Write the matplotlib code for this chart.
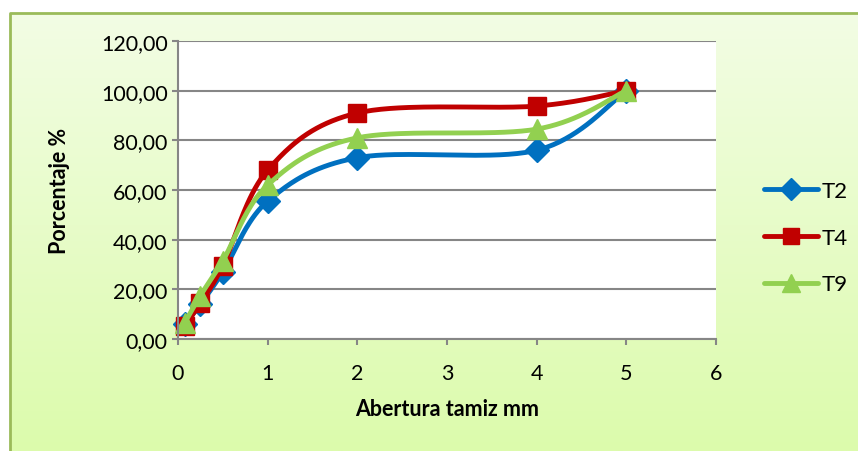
import matplotlib.pyplot as plt
import numpy as np
from matplotlib.patches import Rectangle
from matplotlib.lines import Line2D

abertura = [0.075, 0.25, 0.5, 1, 2, 4, 5]
t2 = [6.0, 14.0, 27.0, 55.5, 73.0, 76.0, 100.0]
t4 = [5.2, 14.5, 29.5, 68.0, 91.0, 93.8, 100.0]
t9 = [6.5, 17.5, 31.5, 62.0, 81.0, 84.5, 100.0]
series = ['T2', 'T4', 'T9']
yticks = [0, 20, 40, 60, 80, 100, 120]
xticks = [0, 1, 2, 3, 4, 5, 6]


def smooth(x, y, n=40):
    # excel-like bezier smoothing
    x = np.asarray(x, float)
    y = np.asarray(y, float)
    px = np.concatenate([[x[0]], x, [x[-1]]])
    py = np.concatenate([[y[0]], y, [y[-1]]])
    xs, ys = [], []
    t = np.linspace(0, 1, n)
    for i in range(1, len(px) - 2):
        p0 = np.array([px[i - 1], py[i - 1]])
        p1 = np.array([px[i], py[i]])
        p2 = np.array([px[i + 1], py[i + 1]])
        p3 = np.array([px[i + 2], py[i + 2]])
        c1 = p1 + (p2 - p0) / 6
        c2 = p2 - (p3 - p1) / 6
        b = ((1 - t) ** 3)[:, None] * p1 + (3 * (1 - t) ** 2 * t)[:, None] * c1 \
            + (3 * (1 - t) * t ** 2)[:, None] * c2 + (t ** 3)[:, None] * p2
        xs.extend(b[:, 0])
        ys.extend(b[:, 1])
    return xs, ys


W, H = 858, 452
fig = plt.figure(figsize=(W / 100, H / 100), dpi=100)
fig.patch.set_facecolor('white')

# background gradient
bg = fig.add_axes([0, 0, 1, 1], zorder=0)
bg.set_axis_off()
top = np.array([0xF3, 0xFD, 0xE6]) / 255
bot = np.array([0xDC, 0xFB, 0xAC]) / 255
grad = np.linspace(0, 1, 200)[:, None, None] * (bot - top) + top
bg.imshow(np.repeat(grad, 2, axis=1), aspect='auto', extent=[0, W, H, 0])
bg.set_xlim(0, W)
bg.set_ylim(H, 0)
bg.add_patch(Rectangle((0, 0), 9, H, color='white', zorder=2))
bg.add_patch(Rectangle((0, 0), W, 13, color='white', zorder=2))
bg.plot([9.5, 9.5, W], [H, 13.5, 13.5], color='#9BBB59', lw=2, zorder=3)

ax = fig.add_axes([178 / W, 1 - 340 / H, (716 - 178) / W, (340 - 42) / H], zorder=1)
ax.set_facecolor('white')
ax.set_xlim(0, 6)
ax.set_ylim(0, 120)
for s in ['top', 'right']:
    ax.spines[s].set_visible(False)
for s in ['left', 'bottom']:
    ax.spines[s].set_color('#868686')
    ax.spines[s].set_linewidth(1.5)
ax.yaxis.grid(True, color='#868686', lw=1.5)
ax.set_axisbelow(True)
ax.set_xticks(xticks)
ax.set_yticks(yticks)
ax.set_yticklabels(['{:.2f}'.format(v).replace('.', ',') for v in yticks])
ax.tick_params(colors='#868686', labelcolor='black', labelsize=15.5, length=4, width=1.5)
ax.tick_params(axis='x', pad=13)
for lab in ax.get_xticklabels() + ax.get_yticklabels():
    lab.set_family('Lato')

styles = [('#0070C0', 'D', 12), ('#C00000', 's', 13), ('#92D050', '^', 14)]
handles = []
for name, vals, (c, m, ms) in zip(series, [t2, t4, t9], styles):
    sx, sy = smooth(abertura, vals)
    ax.plot(sx, sy, color=c, lw=3.5, solid_capstyle='round', clip_on=False)
    ax.plot(abertura, vals, ls='none', marker=m, ms=ms, color=c, clip_on=False)
    handles.append(Line2D([], [], color=c, lw=3.5, marker=m, ms=ms - 1, solid_capstyle='round'))

ax.set_xlabel('Abertura tamiz mm', fontsize=15.5, fontweight='bold', family='Lato', labelpad=11)
ax.set_ylabel('Porcentaje %', fontsize=15.5, fontweight='bold', family='Lato', labelpad=22)

leg = fig.legend(handles, series, loc='upper left', bbox_to_anchor=(744 / W, 1 - 162 / H),
                 frameon=False, prop={'family': 'Lato', 'size': 16}, handlelength=2.45,
                 handletextpad=0.15, labelspacing=1.2)

fig.savefig('out.png', dpi=100)
